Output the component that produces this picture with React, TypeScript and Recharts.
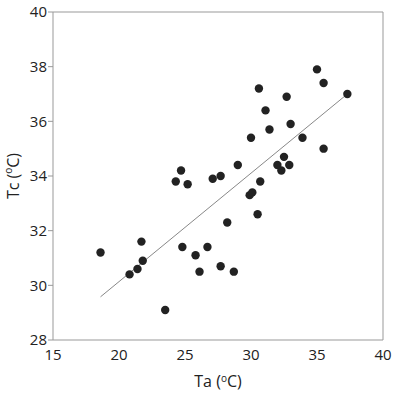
import React from 'react';
import { ScatterChart, Scatter, XAxis, YAxis, ReferenceLine } from 'recharts';

const taValues = [18.6, 20.8, 21.4, 21.8, 21.7, 23.5, 24.3, 24.7, 25.2, 24.8, 25.8, 26.1, 26.7, 27.1, 27.7, 27.7, 28.2, 28.7, 29.0, 29.9, 30.1, 30.0, 30.5, 30.7, 30.6, 31.1, 31.4, 32.0, 32.3, 32.5, 32.9, 32.7, 33.0, 33.9, 35.0, 35.5, 35.5, 37.3];
const tcValues = [31.2, 30.4, 30.6, 30.9, 31.6, 29.1, 33.8, 34.2, 33.7, 31.4, 31.1, 30.5, 31.4, 33.9, 34.0, 30.7, 32.3, 30.5, 34.4, 33.3, 33.4, 35.4, 32.6, 33.8, 37.2, 36.4, 35.7, 34.4, 34.2, 34.7, 34.4, 36.9, 35.9, 35.4, 37.9, 37.4, 35.0, 37.0];
const fitTa = [18.6, 37.3];
const fitTc = [29.58, 37.0];
const xTicks = [15, 20, 25, 30, 35, 40];
const yTicks = [28, 30, 32, 34, 36, 38, 40];

const points = taValues.map((ta, i) => ({ ta, tc: tcValues[i] }));
const FONT = "'Open Sans', sans-serif";

const YLabel = (props: any) => {
  const vb = props.viewBox || {};
  const cx = 13;
  const cy = vb.y + vb.height / 2;
  return (
    <text x={cx} y={cy} transform={`rotate(-90 ${cx} ${cy})`} textAnchor="middle" dominantBaseline="central" fontSize={16} fill="#222" fontFamily={FONT}>
      Tc (<tspan fontSize={10} dy={-5}>o</tspan><tspan dy={5}>C)</tspan>
    </text>
  );
};

const XLabel = (props: any) => {
  const vb = props.viewBox || {};
  const cx = vb.x + vb.width / 2;
  return (
    <text x={cx} y={387} textAnchor="middle" fontSize={16} fill="#222" fontFamily={FONT}>
      Ta (<tspan fontSize={10} dy={-5}>o</tspan><tspan dy={5}>C)</tspan>
    </text>
  );
};

export default function App() {
  return (
    <div style={{ position: 'absolute', left: 0, top: 0, background: '#fff' }}>
      <ScatterChart width={394} height={397} margin={{ top: 12, right: 11, bottom: 0, left: 20 }}>
        <XAxis
          type="number"
          dataKey="ta"
          domain={[15, 40]}
          ticks={xTicks}
          tickLine={false}
          axisLine={{ stroke: '#999' }}
          tick={{ fill: '#222', fontSize: 15, fontFamily: FONT }}
          tickMargin={3}
          height={57}
          interval={0}
          label={<XLabel />}
        />
        <YAxis
          type="number"
          dataKey="tc"
          domain={[28, 40]}
          ticks={yTicks}
          tickSize={5}
          tickLine={{ stroke: '#999' }}
          axisLine={{ stroke: '#999' }}
          tick={{ fill: '#222', fontSize: 15, fontFamily: FONT }}
          tickMargin={1}
          width={33}
          interval={0}
          label={<YLabel />}
        />
        <ReferenceLine y={40} stroke="#999" />
        <ReferenceLine x={40} stroke="#999" />
        <ReferenceLine
          segment={[{ x: fitTa[0], y: fitTc[0] }, { x: fitTa[1], y: fitTc[1] }]}
          stroke="#888"
          strokeWidth={1}
        />
        <Scatter data={points} fill="#222" isAnimationActive={false} shape={(p: any) => <circle cx={p.cx} cy={p.cy} r={4.2} fill="#222" />} />
      </ScatterChart>
    </div>
  );
}
